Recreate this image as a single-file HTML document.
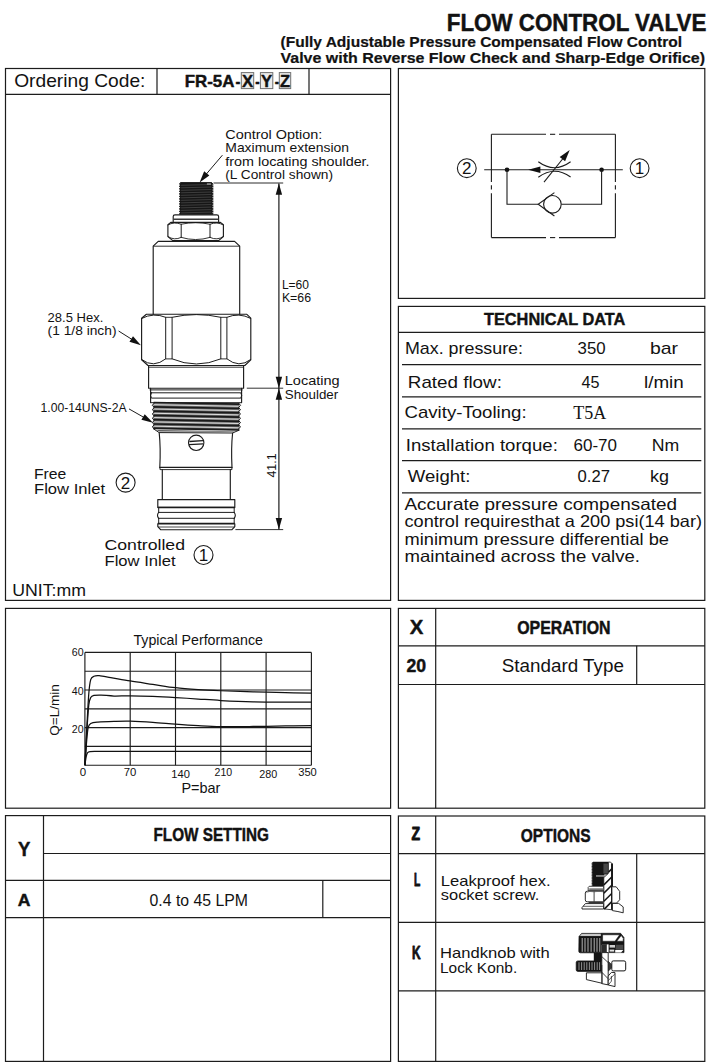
<!DOCTYPE html>
<html><head><meta charset="utf-8"><title>Flow Control Valve FR-5A</title>
<style>
html,body{margin:0;padding:0;background:#fff;}
body{width:711px;height:1063px;overflow:hidden;font-family:"Liberation Sans",sans-serif;}
svg{display:block;}
text{white-space:pre;}
</style></head><body>
<svg width="711" height="1063" viewBox="0 0 711 1063">
<rect x="0" y="0" width="711" height="1063" fill="#ffffff"/>
<rect x="5.5" y="68.5" width="385.1" height="531.9" fill="none" stroke="#1c1c1c" stroke-width="1.2" />
<line x1="5.5" y1="94.4" x2="390.6" y2="94.4" stroke="#1c1c1c" stroke-width="1.2" />
<line x1="157" y1="68.5" x2="157" y2="94.4" stroke="#1c1c1c" stroke-width="1.2" />
<line x1="309" y1="68.5" x2="309" y2="94.4" stroke="#1c1c1c" stroke-width="1.2" />
<rect x="5.5" y="608.4" width="385.1" height="199.8" fill="none" stroke="#1c1c1c" stroke-width="1.2" />
<rect x="5.5" y="815.6" width="385.1" height="245.8" fill="none" stroke="#1c1c1c" stroke-width="1.2" />
<line x1="43.5" y1="815.6" x2="43.5" y2="1061.4" stroke="#1c1c1c" stroke-width="1.2" />
<line x1="43.5" y1="853.5" x2="390.6" y2="853.5" stroke="#1c1c1c" stroke-width="1.2" />
<line x1="5.5" y1="880.4" x2="390.6" y2="880.4" stroke="#1c1c1c" stroke-width="1.2" />
<line x1="5.5" y1="917.7" x2="390.6" y2="917.7" stroke="#1c1c1c" stroke-width="1.2" />
<line x1="322.8" y1="880.4" x2="322.8" y2="917.7" stroke="#1c1c1c" stroke-width="1.2" />
<rect x="398.4" y="68.5" width="306.4" height="229.9" fill="none" stroke="#1c1c1c" stroke-width="1.2" />
<rect x="398.4" y="306.4" width="306.4" height="294.0" fill="none" stroke="#1c1c1c" stroke-width="1.2" />
<line x1="398.4" y1="332.4" x2="704.8" y2="332.4" stroke="#1c1c1c" stroke-width="1.2" />
<line x1="402" y1="364.6" x2="701.3" y2="364.6" stroke="#1c1c1c" stroke-width="1.2" />
<line x1="402" y1="396.8" x2="701.3" y2="396.8" stroke="#1c1c1c" stroke-width="1.2" />
<line x1="402" y1="428.9" x2="701.3" y2="428.9" stroke="#1c1c1c" stroke-width="1.2" />
<line x1="402" y1="460.6" x2="701.3" y2="460.6" stroke="#1c1c1c" stroke-width="1.2" />
<line x1="402" y1="492.8" x2="701.3" y2="492.8" stroke="#1c1c1c" stroke-width="1.2" />
<rect x="398.4" y="608.4" width="306.4" height="199.8" fill="none" stroke="#1c1c1c" stroke-width="1.2" />
<line x1="435.7" y1="608.4" x2="435.7" y2="808.2" stroke="#1c1c1c" stroke-width="1.2" />
<line x1="398.4" y1="645.8" x2="704.8" y2="645.8" stroke="#1c1c1c" stroke-width="1.2" />
<line x1="398.4" y1="684.5" x2="704.8" y2="684.5" stroke="#1c1c1c" stroke-width="1.2" />
<line x1="636.7" y1="645.8" x2="636.7" y2="684.5" stroke="#1c1c1c" stroke-width="1.2" />
<rect x="398.4" y="816.0" width="306.4" height="245.4" fill="none" stroke="#1c1c1c" stroke-width="1.2" />
<line x1="435.7" y1="816.0" x2="435.7" y2="1061.4" stroke="#1c1c1c" stroke-width="1.2" />
<line x1="398.4" y1="853.6" x2="704.8" y2="853.6" stroke="#1c1c1c" stroke-width="1.2" />
<line x1="398.4" y1="922.4" x2="704.8" y2="922.4" stroke="#1c1c1c" stroke-width="1.2" />
<line x1="398.4" y1="990.9" x2="704.8" y2="990.9" stroke="#1c1c1c" stroke-width="1.2" />
<line x1="636.7" y1="853.6" x2="636.7" y2="990.9" stroke="#1c1c1c" stroke-width="1.2" />
<text x="446.8" y="31" font-family='"Liberation Sans", sans-serif' font-size="24" font-weight="bold" text-anchor="start" fill="#121212" textLength="259.5" lengthAdjust="spacingAndGlyphs"  stroke="#121212" stroke-width="0.45" stroke-linejoin="round">FLOW CONTROL VALVE</text>
<text x="280.5" y="47" font-family='"Liberation Sans", sans-serif' font-size="14.4" font-weight="bold" text-anchor="start" fill="#121212" textLength="401.5" lengthAdjust="spacingAndGlyphs"  stroke="#121212" stroke-width="0.2" stroke-linejoin="round">(Fully Adjustable Pressure Compensated Flow Control</text>
<text x="280.5" y="63.3" font-family='"Liberation Sans", sans-serif' font-size="14.4" font-weight="bold" text-anchor="start" fill="#121212" textLength="424.5" lengthAdjust="spacingAndGlyphs"  stroke="#121212" stroke-width="0.2" stroke-linejoin="round">Valve with Reverse Flow Check and Sharp-Edge Orifice)</text>
<text x="14.2" y="87.4" font-family='"Liberation Sans", sans-serif' font-size="18.5" text-anchor="start" fill="#121212" textLength="131.2" lengthAdjust="spacingAndGlyphs" >Ordering Code:</text>
<rect x="241.3" y="72.6" width="12.4" height="16.0" fill="#ececec" stroke="#707070" stroke-width="1" />
<rect x="260.4" y="72.6" width="12.4" height="16.0" fill="#ececec" stroke="#707070" stroke-width="1" />
<rect x="279.3" y="72.6" width="11.4" height="16.0" fill="#ececec" stroke="#707070" stroke-width="1" />
<text x="184.8" y="87.3" font-family='"Liberation Sans", sans-serif' font-size="17" font-weight="bold" text-anchor="start" fill="#121212" textLength="49.6" lengthAdjust="spacingAndGlyphs"  stroke="#121212" stroke-width="0.45" stroke-linejoin="round">FR-5A</text>
<text x="235.6" y="87.3" font-family='"Liberation Sans", sans-serif' font-size="17" font-weight="bold" text-anchor="start" fill="#121212" textLength="4.8" lengthAdjust="spacingAndGlyphs"  stroke="#121212" stroke-width="0.45" stroke-linejoin="round">-</text>
<text x="241.9" y="87.3" font-family='"Liberation Sans", sans-serif' font-size="17" font-weight="bold" text-anchor="start" fill="#121212" textLength="11.2" lengthAdjust="spacingAndGlyphs"  stroke="#121212" stroke-width="0.45" stroke-linejoin="round">X</text>
<text x="255.2" y="87.3" font-family='"Liberation Sans", sans-serif' font-size="17" font-weight="bold" text-anchor="start" fill="#121212" textLength="4.4" lengthAdjust="spacingAndGlyphs"  stroke="#121212" stroke-width="0.45" stroke-linejoin="round">-</text>
<text x="261" y="87.3" font-family='"Liberation Sans", sans-serif' font-size="17" font-weight="bold" text-anchor="start" fill="#121212" textLength="11.2" lengthAdjust="spacingAndGlyphs"  stroke="#121212" stroke-width="0.45" stroke-linejoin="round">Y</text>
<text x="274.8" y="87.3" font-family='"Liberation Sans", sans-serif' font-size="17" font-weight="bold" text-anchor="start" fill="#121212" textLength="4.2" lengthAdjust="spacingAndGlyphs"  stroke="#121212" stroke-width="0.45" stroke-linejoin="round">-</text>
<text x="280.1" y="87.3" font-family='"Liberation Sans", sans-serif' font-size="17" font-weight="bold" text-anchor="start" fill="#121212" textLength="10.1" lengthAdjust="spacingAndGlyphs"  stroke="#121212" stroke-width="0.45" stroke-linejoin="round">Z</text>
<text x="225.3" y="138.7" font-family='"Liberation Sans", sans-serif' font-size="13" text-anchor="start" fill="#121212" textLength="97" lengthAdjust="spacingAndGlyphs" >Control Option:</text>
<text x="225.3" y="152.3" font-family='"Liberation Sans", sans-serif' font-size="13" text-anchor="start" fill="#121212" textLength="123.7" lengthAdjust="spacingAndGlyphs" >Maximum extension</text>
<text x="225.3" y="165.7" font-family='"Liberation Sans", sans-serif' font-size="13" text-anchor="start" fill="#121212" textLength="144.3" lengthAdjust="spacingAndGlyphs" >from locating shoulder.</text>
<text x="225.3" y="178.9" font-family='"Liberation Sans", sans-serif' font-size="13" text-anchor="start" fill="#121212" textLength="107.7" lengthAdjust="spacingAndGlyphs" >(L Control shown)</text>
<text x="281.9" y="288.5" font-family='"Liberation Sans", sans-serif' font-size="12.5" text-anchor="start" fill="#121212" textLength="27.1" lengthAdjust="spacingAndGlyphs" >L=60</text>
<text x="281.9" y="302.3" font-family='"Liberation Sans", sans-serif' font-size="12.5" text-anchor="start" fill="#121212" textLength="29.1" lengthAdjust="spacingAndGlyphs" >K=66</text>
<text x="284.8" y="385.4" font-family='"Liberation Sans", sans-serif' font-size="13" text-anchor="start" fill="#121212" textLength="54.8" lengthAdjust="spacingAndGlyphs" >Locating</text>
<text x="284.8" y="398.8" font-family='"Liberation Sans", sans-serif' font-size="13" text-anchor="start" fill="#121212" textLength="53.4" lengthAdjust="spacingAndGlyphs" >Shoulder</text>
<text x="47.6" y="322" font-family='"Liberation Sans", sans-serif' font-size="13.5" text-anchor="start" fill="#121212" textLength="55.7" lengthAdjust="spacingAndGlyphs" >28.5 Hex.</text>
<text x="47.6" y="335" font-family='"Liberation Sans", sans-serif' font-size="13.5" text-anchor="start" fill="#121212" textLength="68.9" lengthAdjust="spacingAndGlyphs" >(1 1/8 inch)</text>
<text x="40.5" y="412" font-family='"Liberation Sans", sans-serif' font-size="13" text-anchor="start" fill="#121212" textLength="86.1" lengthAdjust="spacingAndGlyphs" >1.00-14UNS-2A</text>
<text x="34" y="478.5" font-family='"Liberation Sans", sans-serif' font-size="15.5" text-anchor="start" fill="#121212" textLength="32.3" lengthAdjust="spacingAndGlyphs" >Free</text>
<text x="34" y="494.3" font-family='"Liberation Sans", sans-serif' font-size="15.5" text-anchor="start" fill="#121212" textLength="71" lengthAdjust="spacingAndGlyphs" >Flow Inlet</text>
<text x="104.5" y="550.4" font-family='"Liberation Sans", sans-serif' font-size="15.5" text-anchor="start" fill="#121212" textLength="80.5" lengthAdjust="spacingAndGlyphs" >Controlled</text>
<text x="104.5" y="566.3" font-family='"Liberation Sans", sans-serif' font-size="15.5" text-anchor="start" fill="#121212" textLength="71" lengthAdjust="spacingAndGlyphs" >Flow Inlet</text>
<text x="12.2" y="596.4" font-family='"Liberation Sans", sans-serif' font-size="16.5" text-anchor="start" fill="#121212" textLength="73.8" lengthAdjust="spacingAndGlyphs" >UNIT:mm</text>
<text transform="translate(275.8,465.5) rotate(-90)" font-family='"Liberation Sans", sans-serif' font-size="13" text-anchor="middle" fill="#121212" textLength="24" lengthAdjust="spacingAndGlyphs">41.1</text>
<text x="484" y="324.8" font-family='"Liberation Sans", sans-serif' font-size="17.3" font-weight="bold" text-anchor="start" fill="#121212" textLength="141.3" lengthAdjust="spacingAndGlyphs"  stroke="#121212" stroke-width="0.45" stroke-linejoin="round">TECHNICAL DATA</text>
<text x="405" y="354" font-family='"Liberation Sans", sans-serif' font-size="17" text-anchor="start" fill="#121212" textLength="118" lengthAdjust="spacingAndGlyphs" >Max. pressure:</text>
<text x="577.6" y="354" font-family='"Liberation Sans", sans-serif' font-size="17" text-anchor="start" fill="#121212" textLength="28.1" lengthAdjust="spacingAndGlyphs" >350</text>
<text x="650" y="354" font-family='"Liberation Sans", sans-serif' font-size="17" text-anchor="start" fill="#121212" textLength="28.1" lengthAdjust="spacingAndGlyphs" >bar</text>
<text x="407.8" y="388.3" font-family='"Liberation Sans", sans-serif' font-size="17" text-anchor="start" fill="#121212" textLength="94.1" lengthAdjust="spacingAndGlyphs" >Rated flow:</text>
<text x="581.4" y="388.3" font-family='"Liberation Sans", sans-serif' font-size="17" text-anchor="start" fill="#121212" textLength="18" lengthAdjust="spacingAndGlyphs" >45</text>
<text x="644" y="388.3" font-family='"Liberation Sans", sans-serif' font-size="17" text-anchor="start" fill="#121212" textLength="39.8" lengthAdjust="spacingAndGlyphs" >l/min</text>
<text x="404.5" y="418.4" font-family='"Liberation Sans", sans-serif' font-size="17" text-anchor="start" fill="#121212" textLength="122.1" lengthAdjust="spacingAndGlyphs" >Cavity-Tooling:</text>
<text x="573.2" y="418.8" font-family='"Liberation Serif", serif' font-size="19" text-anchor="start" fill="#121212" textLength="33" lengthAdjust="spacingAndGlyphs" >T5A</text>
<text x="405.8" y="450.9" font-family='"Liberation Sans", sans-serif' font-size="17" text-anchor="start" fill="#121212" textLength="152" lengthAdjust="spacingAndGlyphs" >Installation torque:</text>
<text x="573.5" y="450.9" font-family='"Liberation Sans", sans-serif' font-size="17" text-anchor="start" fill="#121212" textLength="43.5" lengthAdjust="spacingAndGlyphs" >60-70</text>
<text x="651.8" y="450.9" font-family='"Liberation Sans", sans-serif' font-size="17" text-anchor="start" fill="#121212" textLength="27.5" lengthAdjust="spacingAndGlyphs" >Nm</text>
<text x="407.8" y="482.2" font-family='"Liberation Sans", sans-serif' font-size="17" text-anchor="start" fill="#121212" textLength="62.6" lengthAdjust="spacingAndGlyphs" >Weight:</text>
<text x="577.6" y="482.2" font-family='"Liberation Sans", sans-serif' font-size="17" text-anchor="start" fill="#121212" textLength="32.4" lengthAdjust="spacingAndGlyphs" >0.27</text>
<text x="650" y="482.2" font-family='"Liberation Sans", sans-serif' font-size="17" text-anchor="start" fill="#121212" textLength="19" lengthAdjust="spacingAndGlyphs" >kg</text>
<text x="404.5" y="510" font-family='"Liberation Sans", sans-serif' font-size="16.5" text-anchor="start" fill="#121212" textLength="272.5" lengthAdjust="spacingAndGlyphs" >Accurate pressure compensated</text>
<text x="404.5" y="527.4" font-family='"Liberation Sans", sans-serif' font-size="16.5" text-anchor="start" fill="#121212" textLength="297.5" lengthAdjust="spacingAndGlyphs" >control requiresthat a 200 psi(14 bar)</text>
<text x="404.5" y="544.6" font-family='"Liberation Sans", sans-serif' font-size="16.5" text-anchor="start" fill="#121212" textLength="264.5" lengthAdjust="spacingAndGlyphs" >minimum pressure differential be</text>
<text x="404.5" y="561.8" font-family='"Liberation Sans", sans-serif' font-size="16.5" text-anchor="start" fill="#121212" textLength="235.5" lengthAdjust="spacingAndGlyphs" >maintained across the valve.</text>
<text x="409.8" y="634.2" font-family='"Liberation Sans", sans-serif' font-size="20" font-weight="bold" text-anchor="start" fill="#121212" textLength="13.6" lengthAdjust="spacingAndGlyphs"  stroke="#121212" stroke-width="0.45" stroke-linejoin="round">X</text>
<text x="517.2" y="634.2" font-family='"Liberation Sans", sans-serif' font-size="18" font-weight="bold" text-anchor="start" fill="#121212" textLength="93.4" lengthAdjust="spacingAndGlyphs"  stroke="#121212" stroke-width="0.45" stroke-linejoin="round">OPERATION</text>
<text x="406.4" y="672" font-family='"Liberation Sans", sans-serif' font-size="17.5" font-weight="bold" text-anchor="start" fill="#121212" textLength="19.6" lengthAdjust="spacingAndGlyphs"  stroke="#121212" stroke-width="0.45" stroke-linejoin="round">20</text>
<text x="501.7" y="672" font-family='"Liberation Sans", sans-serif' font-size="17.5" text-anchor="start" fill="#121212" textLength="122.2" lengthAdjust="spacingAndGlyphs" >Standard Type</text>
<text x="17.9" y="855.6" font-family='"Liberation Sans", sans-serif' font-size="19.5" font-weight="bold" text-anchor="start" fill="#121212" textLength="12.4" lengthAdjust="spacingAndGlyphs"  stroke="#121212" stroke-width="0.45" stroke-linejoin="round">Y</text>
<text x="153.5" y="840.9" font-family='"Liberation Sans", sans-serif' font-size="18" font-weight="bold" text-anchor="start" fill="#121212" textLength="115.4" lengthAdjust="spacingAndGlyphs"  stroke="#121212" stroke-width="0.45" stroke-linejoin="round">FLOW SETTING</text>
<text x="17.7" y="905.7" font-family='"Liberation Sans", sans-serif' font-size="16.5" font-weight="bold" text-anchor="start" fill="#121212" textLength="12.7" lengthAdjust="spacingAndGlyphs"  stroke="#121212" stroke-width="0.45" stroke-linejoin="round">A</text>
<text x="149.5" y="905.7" font-family='"Liberation Sans", sans-serif' font-size="16.5" text-anchor="start" fill="#121212" textLength="98.5" lengthAdjust="spacingAndGlyphs" >0.4 to 45 LPM</text>
<text x="411.6" y="840.2" font-family='"Liberation Sans", sans-serif' font-size="19" font-weight="bold" text-anchor="start" fill="#121212" textLength="8.6" lengthAdjust="spacingAndGlyphs" stroke="#121212" stroke-width="0.9" stroke-linejoin="round">Z</text>
<text x="520.8" y="842.4" font-family='"Liberation Sans", sans-serif' font-size="18.5" font-weight="bold" text-anchor="start" fill="#121212" textLength="69.8" lengthAdjust="spacingAndGlyphs"  stroke="#121212" stroke-width="0.45" stroke-linejoin="round">OPTIONS</text>
<text x="414.0" y="885.6" font-family='"Liberation Sans", sans-serif' font-size="17.5" font-weight="bold" text-anchor="start" fill="#121212" textLength="6.3" lengthAdjust="spacingAndGlyphs" stroke="#121212" stroke-width="0.9" stroke-linejoin="round">L</text>
<text x="412.1" y="958.9" font-family='"Liberation Sans", sans-serif' font-size="18" font-weight="bold" text-anchor="start" fill="#121212" textLength="8.6" lengthAdjust="spacingAndGlyphs" stroke="#121212" stroke-width="0.9" stroke-linejoin="round">K</text>
<text x="440.8" y="885.6" font-family='"Liberation Sans", sans-serif' font-size="15" text-anchor="start" fill="#121212" textLength="109.8" lengthAdjust="spacingAndGlyphs" >Leakproof hex.</text>
<text x="440.8" y="900.4" font-family='"Liberation Sans", sans-serif' font-size="15" text-anchor="start" fill="#121212" textLength="98.6" lengthAdjust="spacingAndGlyphs" >socket screw.</text>
<text x="440.0" y="957.6" font-family='"Liberation Sans", sans-serif' font-size="15" text-anchor="start" fill="#121212" textLength="109.7" lengthAdjust="spacingAndGlyphs" >Handknob with</text>
<text x="440.0" y="973.0" font-family='"Liberation Sans", sans-serif' font-size="15" text-anchor="start" fill="#121212" textLength="77.2" lengthAdjust="spacingAndGlyphs" >Lock Konb.</text>
<path d="M180.79999999999998,182.6 L211.70000000000002,182.6 L212.9,184.1 L212.9,214.2 L179.6,214.2 L179.6,184.1 Z" fill="#161616" stroke="#1c1c1c" stroke-width="1" stroke-linejoin="round" stroke-linecap="round" />
<line x1="181.1" y1="185.30" x2="211.4" y2="184.50" stroke="#5d5d5d" stroke-width="0.55"/>
<path d="M179.0,186.00 l1.3,-0.9 l-1.3,-0.9 Z M213.5,186.00 l-1.3,-0.9 l1.3,-0.9 Z" fill="#fff" stroke="none"/>
<line x1="181.1" y1="187.81" x2="211.4" y2="187.01" stroke="#5d5d5d" stroke-width="0.55"/>
<path d="M179.0,188.51 l1.3,-0.9 l-1.3,-0.9 Z M213.5,188.51 l-1.3,-0.9 l1.3,-0.9 Z" fill="#fff" stroke="none"/>
<line x1="181.1" y1="190.32" x2="211.4" y2="189.52" stroke="#5d5d5d" stroke-width="0.55"/>
<path d="M179.0,191.02 l1.3,-0.9 l-1.3,-0.9 Z M213.5,191.02 l-1.3,-0.9 l1.3,-0.9 Z" fill="#fff" stroke="none"/>
<line x1="181.1" y1="192.82" x2="211.4" y2="192.02" stroke="#5d5d5d" stroke-width="0.55"/>
<path d="M179.0,193.52 l1.3,-0.9 l-1.3,-0.9 Z M213.5,193.52 l-1.3,-0.9 l1.3,-0.9 Z" fill="#fff" stroke="none"/>
<line x1="181.1" y1="195.33" x2="211.4" y2="194.53" stroke="#5d5d5d" stroke-width="0.55"/>
<path d="M179.0,196.03 l1.3,-0.9 l-1.3,-0.9 Z M213.5,196.03 l-1.3,-0.9 l1.3,-0.9 Z" fill="#fff" stroke="none"/>
<line x1="181.1" y1="197.84" x2="211.4" y2="197.04" stroke="#5d5d5d" stroke-width="0.55"/>
<path d="M179.0,198.54 l1.3,-0.9 l-1.3,-0.9 Z M213.5,198.54 l-1.3,-0.9 l1.3,-0.9 Z" fill="#fff" stroke="none"/>
<line x1="181.1" y1="200.35" x2="211.4" y2="199.55" stroke="#5d5d5d" stroke-width="0.55"/>
<path d="M179.0,201.05 l1.3,-0.9 l-1.3,-0.9 Z M213.5,201.05 l-1.3,-0.9 l1.3,-0.9 Z" fill="#fff" stroke="none"/>
<line x1="181.1" y1="202.86" x2="211.4" y2="202.06" stroke="#5d5d5d" stroke-width="0.55"/>
<path d="M179.0,203.56 l1.3,-0.9 l-1.3,-0.9 Z M213.5,203.56 l-1.3,-0.9 l1.3,-0.9 Z" fill="#fff" stroke="none"/>
<line x1="181.1" y1="205.37" x2="211.4" y2="204.57" stroke="#5d5d5d" stroke-width="0.55"/>
<path d="M179.0,206.07 l1.3,-0.9 l-1.3,-0.9 Z M213.5,206.07 l-1.3,-0.9 l1.3,-0.9 Z" fill="#fff" stroke="none"/>
<line x1="181.1" y1="207.87" x2="211.4" y2="207.07" stroke="#5d5d5d" stroke-width="0.55"/>
<path d="M179.0,208.57 l1.3,-0.9 l-1.3,-0.9 Z M213.5,208.57 l-1.3,-0.9 l1.3,-0.9 Z" fill="#fff" stroke="none"/>
<line x1="181.1" y1="210.38" x2="211.4" y2="209.58" stroke="#5d5d5d" stroke-width="0.55"/>
<path d="M179.0,211.08 l1.3,-0.9 l-1.3,-0.9 Z M213.5,211.08 l-1.3,-0.9 l1.3,-0.9 Z" fill="#fff" stroke="none"/>
<line x1="181.1" y1="212.89" x2="211.4" y2="212.09" stroke="#5d5d5d" stroke-width="0.55"/>
<path d="M179.0,213.59 l1.3,-0.9 l-1.3,-0.9 Z M213.5,213.59 l-1.3,-0.9 l1.3,-0.9 Z" fill="#fff" stroke="none"/>
<line x1="206.9" y1="184.0" x2="210.9" y2="184.0" stroke="#ddd" stroke-width="0.9"/>
<path d="M173.2,221.6 L173.2,216.4 Q173.2,214.8 175.0,214.8 L216.8,214.8 Q218.6,214.8 218.6,216.4 L218.6,221.6" fill="none" stroke="#1c1c1c" stroke-width="1.15" stroke-linejoin="round" stroke-linecap="round" />
<line x1="173.2" y1="219.2" x2="218.6" y2="219.2" stroke="#3a3a3a" stroke-width="1.6" />
<path d="M170.8,222.4 L220.4,222.4 L223.4,224.8 L223.4,236.6 L218.6,240.6 L172.8,240.6 L167.9,236.6 L167.9,224.8 Z" fill="#fff" stroke="#1c1c1c" stroke-width="1.15" stroke-linejoin="round" stroke-linecap="round" />
<line x1="181.2" y1="224.2" x2="181.2" y2="237.4" stroke="#1c1c1c" stroke-width="1.0" />
<line x1="210.0" y1="224.2" x2="210.0" y2="237.4" stroke="#1c1c1c" stroke-width="1.0" />
<path d="M181.2,224.2 Q195.6,221.2 210.0,224.2" fill="none" stroke="#1c1c1c" stroke-width="0.9" stroke-linejoin="round" stroke-linecap="round" />
<path d="M181.2,237.4 Q195.6,241.8 210.0,237.4" fill="none" stroke="#1c1c1c" stroke-width="0.9" stroke-linejoin="round" stroke-linecap="round" />
<path d="M168.1,224.9 Q174.0,221.4 181.2,224.2" fill="none" stroke="#1c1c1c" stroke-width="0.9" stroke-linejoin="round" stroke-linecap="round" />
<path d="M210.0,224.2 Q217.2,221.4 223.2,224.9" fill="none" stroke="#1c1c1c" stroke-width="0.9" stroke-linejoin="round" stroke-linecap="round" />
<path d="M168.1,236.6 Q174.0,240.8 181.2,237.4" fill="none" stroke="#1c1c1c" stroke-width="0.9" stroke-linejoin="round" stroke-linecap="round" />
<path d="M210.0,237.4 Q217.2,240.8 223.2,236.6" fill="none" stroke="#1c1c1c" stroke-width="0.9" stroke-linejoin="round" stroke-linecap="round" />
<path d="M153.2,314.2 L153.2,246.2 L158.2,241.4 L234.6,241.4 L239.7,246.2 L239.7,314.2" fill="none" stroke="#1c1c1c" stroke-width="1.15" stroke-linejoin="round" stroke-linecap="round" />
<line x1="153.2" y1="246.2" x2="239.7" y2="246.2" stroke="#1c1c1c" stroke-width="0.9" />
<path d="M146.4,314.2 L246.6,314.2 L250.8,318.2 L250.8,359.8 L244.8,365.5 L148.0,365.5 L141.6,359.8 L141.6,318.2 Z" fill="none" stroke="#1c1c1c" stroke-width="1.15" stroke-linejoin="round" stroke-linecap="round" />
<line x1="165.7" y1="317.3" x2="165.7" y2="358.9" stroke="#1c1c1c" stroke-width="1.0" />
<line x1="172.1" y1="317.3" x2="172.1" y2="358.9" stroke="#1c1c1c" stroke-width="1.0" />
<line x1="220.8" y1="317.3" x2="220.8" y2="358.9" stroke="#1c1c1c" stroke-width="1.0" />
<line x1="226.9" y1="317.3" x2="226.9" y2="358.9" stroke="#1c1c1c" stroke-width="1.0" />
<line x1="165.7" y1="317.3" x2="172.1" y2="317.3" stroke="#1c1c1c" stroke-width="0.9" />
<line x1="220.8" y1="317.3" x2="226.9" y2="317.3" stroke="#1c1c1c" stroke-width="0.9" />
<line x1="165.7" y1="358.9" x2="172.1" y2="358.9" stroke="#1c1c1c" stroke-width="0.9" />
<line x1="220.8" y1="358.9" x2="226.9" y2="358.9" stroke="#1c1c1c" stroke-width="0.9" />
<path d="M141.8,318.4 Q153.5,312.2 165.7,317.3" fill="none" stroke="#1c1c1c" stroke-width="1.0" stroke-linejoin="round" stroke-linecap="round" />
<path d="M226.9,317.3 Q239,312.2 250.6,318.4" fill="none" stroke="#1c1c1c" stroke-width="1.0" stroke-linejoin="round" stroke-linecap="round" />
<path d="M172.1,317.3 Q196.4,311.8 220.8,317.3" fill="none" stroke="#1c1c1c" stroke-width="1.0" stroke-linejoin="round" stroke-linecap="round" />
<path d="M141.8,359.6 Q153.5,368.6 165.7,358.9" fill="none" stroke="#1c1c1c" stroke-width="1.0" stroke-linejoin="round" stroke-linecap="round" />
<path d="M226.9,358.9 Q239,368.6 250.6,359.6" fill="none" stroke="#1c1c1c" stroke-width="1.0" stroke-linejoin="round" stroke-linecap="round" />
<path d="M172.1,358.9 Q196.4,369.2 220.8,358.9" fill="none" stroke="#1c1c1c" stroke-width="1.0" stroke-linejoin="round" stroke-linecap="round" />
<path d="M148.6,366.0 L148.6,388.2 L243.6,388.2 L243.6,366.0" fill="none" stroke="#1c1c1c" stroke-width="1.15" stroke-linejoin="round" stroke-linecap="round" />
<line x1="148.6" y1="367.2" x2="243.6" y2="367.2" stroke="#1c1c1c" stroke-width="0.9" />
<path d="M150.6,388.4 L150.6,402.6 M241.6,388.4 L241.6,402.6" fill="none" stroke="#1c1c1c" stroke-width="1.15" stroke-linejoin="round" stroke-linecap="round" />
<line x1="149.6" y1="389.9" x2="242.6" y2="389.9" stroke="#1c1c1c" stroke-width="1.0" />
<path d="M151.4,392.8 L240.8,392.8 Q242.6,395.4 240.8,398.1 L151.4,398.1 Q149.6,395.4 151.4,392.8 Z" fill="none" stroke="#1c1c1c" stroke-width="1.0" stroke-linejoin="round" stroke-linecap="round" />
<line x1="150.6" y1="402.7" x2="241.6" y2="402.7" stroke="#1c1c1c" stroke-width="1.0" />
<rect x="153.4" y="403.2" width="86.0" height="25.80000000000001" fill="#6e6e6e"/>
<line x1="153.6" y1="402.50" x2="239.2" y2="404.20" stroke="#1a1a1a" stroke-width="1.7"/>
<line x1="154.1" y1="404.70" x2="238.7" y2="406.30" stroke="#dedede" stroke-width="1.0"/>
<line x1="153.6" y1="406.80" x2="239.2" y2="408.50" stroke="#1a1a1a" stroke-width="1.7"/>
<line x1="154.1" y1="409.00" x2="238.7" y2="410.60" stroke="#dedede" stroke-width="1.0"/>
<line x1="153.6" y1="411.10" x2="239.2" y2="412.80" stroke="#1a1a1a" stroke-width="1.7"/>
<line x1="154.1" y1="413.30" x2="238.7" y2="414.90" stroke="#dedede" stroke-width="1.0"/>
<line x1="153.6" y1="415.40" x2="239.2" y2="417.10" stroke="#1a1a1a" stroke-width="1.7"/>
<line x1="154.1" y1="417.60" x2="238.7" y2="419.20" stroke="#dedede" stroke-width="1.0"/>
<line x1="153.6" y1="419.70" x2="239.2" y2="421.40" stroke="#1a1a1a" stroke-width="1.7"/>
<line x1="154.1" y1="421.90" x2="238.7" y2="423.50" stroke="#dedede" stroke-width="1.0"/>
<line x1="153.6" y1="424.00" x2="239.2" y2="425.70" stroke="#1a1a1a" stroke-width="1.7"/>
<line x1="154.1" y1="426.20" x2="238.7" y2="427.80" stroke="#dedede" stroke-width="1.0"/>
<line x1="153.6" y1="428.30" x2="239.2" y2="430.00" stroke="#1a1a1a" stroke-width="1.7"/>
<path d="M154.2,403.2 L152.2,405.35 L154.4,407.50 L152.2,409.65 L154.4,411.80 L152.2,413.95 L154.4,416.10 L152.2,418.25 L154.4,420.40 L152.2,422.55 L154.4,424.70 L152.2,426.85 L154.4,429.00" fill="none" stroke="#1c1c1c" stroke-width="1.0" stroke-linejoin="round" stroke-linecap="round" />
<path d="M238.6,403.2 L240.6,405.35 L238.39999999999998,407.50 L240.6,409.65 L238.39999999999998,411.80 L240.6,413.95 L238.39999999999998,416.10 L240.6,418.25 L238.39999999999998,420.40 L240.6,422.55 L238.39999999999998,424.70 L240.6,426.85 L238.39999999999998,429.00" fill="none" stroke="#1c1c1c" stroke-width="1.0" stroke-linejoin="round" stroke-linecap="round" />
<path d="M153.79999999999998,428.8 L239.0,430.2 L232.6,433.0 L159.2,432.6 Z" fill="#fff" stroke="none"/>
<line x1="153.6" y1="428.6" x2="239.2" y2="430.0" stroke="#1c1c1c" stroke-width="1.5" />
<path d="M153.79999999999998,429.0 L159.2,432.6 L232.6,433.0 L239.0,430.2" fill="none" stroke="#1c1c1c" stroke-width="1.0" stroke-linejoin="round" stroke-linecap="round" />
<path d="M156.0,430.0 L236.79999999999998,431.2 L233.0,431.8 L159.6,431.4 Z" fill="#555" stroke="none"/>
<path d="M159.2,432.6 Q160.8,448 159.8,467.6 M232.6,433.0 Q231.0,448 232.0,467.6" fill="none" stroke="#1c1c1c" stroke-width="1.15" stroke-linejoin="round" stroke-linecap="round" />
<line x1="159.8" y1="467.4" x2="232.0" y2="467.4" stroke="#1c1c1c" stroke-width="1.2" />
<line x1="160.2" y1="469.6" x2="231.8" y2="469.6" stroke="#1c1c1c" stroke-width="0.9" />
<path d="M159.8,467.4 L160.2,469.6 M232.0,467.4 L231.8,469.6" fill="none" stroke="#1c1c1c" stroke-width="0.9" stroke-linejoin="round" stroke-linecap="round" />
<path d="M162.3,469.6 L162.3,499.4 M230.3,469.6 L230.3,499.4" fill="none" stroke="#1c1c1c" stroke-width="1.15" stroke-linejoin="round" stroke-linecap="round" />
<circle cx="196.2" cy="442.8" r="7.7" fill="#fff" stroke="#1c1c1c" stroke-width="1.1"/>
<line x1="189.4" y1="441.5" x2="203.0" y2="440.7" stroke="#1c1c1c" stroke-width="1.3" />
<line x1="189.0" y1="444.7" x2="203.2" y2="443.9" stroke="#1c1c1c" stroke-width="1.3" />
<path d="M157.8,499.6 L234.8,499.6 L234.8,507.4 L157.8,507.4 Z" fill="none" stroke="#1c1c1c" stroke-width="1.15" stroke-linejoin="round" stroke-linecap="round" />
<line x1="157.8" y1="507.5" x2="234.8" y2="507.5" stroke="#1c1c1c" stroke-width="1.7" />
<path d="M158.7,507.6 L158.7,512.4 M234.2,507.6 L234.2,512.4" fill="none" stroke="#1c1c1c" stroke-width="1.0" stroke-linejoin="round" stroke-linecap="round" />
<line x1="158.2" y1="512.4" x2="234.6" y2="512.4" stroke="#1c1c1c" stroke-width="1.0" />
<path d="M158.6,512.5 Q156.4,515.4 158.6,518.3 M234.2,512.5 Q236.4,515.4 234.2,518.3" fill="none" stroke="#1c1c1c" stroke-width="1.1" stroke-linejoin="round" stroke-linecap="round" />
<line x1="158.2" y1="518.3" x2="234.6" y2="518.3" stroke="#1c1c1c" stroke-width="1.0" />
<path d="M158.7,518.4 L158.7,523.6 M234.2,518.4 L234.2,523.6" fill="none" stroke="#1c1c1c" stroke-width="1.0" stroke-linejoin="round" stroke-linecap="round" />
<line x1="157.8" y1="523.7" x2="234.8" y2="523.7" stroke="#1c1c1c" stroke-width="1.7" />
<path d="M157.8,523.8 L157.8,526.6 L160.6,529.7 L232.0,529.7 L234.8,526.6 L234.8,523.8" fill="none" stroke="#1c1c1c" stroke-width="1.15" stroke-linejoin="round" stroke-linecap="round" />
<line x1="158.0" y1="527.0" x2="234.6" y2="527.0" stroke="#1c1c1c" stroke-width="0.8" />
<line x1="213.5" y1="183.0" x2="283.2" y2="183.0" stroke="#2c2c2c" stroke-width="1.0" />
<line x1="278.9" y1="183.5" x2="278.9" y2="529.4" stroke="#1c1c1c" stroke-width="1.2" />
<line x1="246.8" y1="388.2" x2="283.2" y2="388.2" stroke="#1c1c1c" stroke-width="0.9" />
<line x1="235.4" y1="529.6" x2="283.2" y2="529.6" stroke="#1c1c1c" stroke-width="0.9" />
<polygon points="278.90,183.20 282.10,194.70 275.70,194.70" fill="#111"/>
<polygon points="278.90,388.20 275.70,376.70 282.10,376.70" fill="#111"/>
<polygon points="278.90,388.20 282.10,399.70 275.70,399.70" fill="#111"/>
<polygon points="278.90,529.40 275.70,517.90 282.10,517.90" fill="#111"/>
<line x1="222.4" y1="155.2" x2="204.5" y2="176.2" stroke="#1c1c1c" stroke-width="1.0" />
<polygon points="199.60,182.40 204.17,171.34 209.34,175.45" fill="#111"/>
<line x1="118.6" y1="331.0" x2="133.5" y2="340.4" stroke="#1c1c1c" stroke-width="1.0" />
<polygon points="140.90,345.20 129.44,341.76 133.01,336.21" fill="#111"/>
<line x1="129.0" y1="408.9" x2="146.0" y2="418.6" stroke="#1c1c1c" stroke-width="1.0" />
<polygon points="153.00,422.80 141.40,419.87 144.72,414.17" fill="#111"/>
<circle cx="125.6" cy="482.6" r="9.5" fill="#fff" stroke="#1c1c1c" stroke-width="1.1"/>
<text x="125.6" y="488.6" font-family='"Liberation Sans", sans-serif' font-size="17" text-anchor="middle" fill="#121212" >2</text>
<circle cx="203.5" cy="555.0" r="9.5" fill="#fff" stroke="#1c1c1c" stroke-width="1.1"/>
<text x="203.5" y="561.0" font-family='"Liberation Sans", sans-serif' font-size="17" text-anchor="middle" fill="#121212" >1</text>
<line x1="491.4" y1="134.3" x2="546.0" y2="134.3" stroke="#1c1c1c" stroke-width="1.1" />
<line x1="550.0" y1="134.3" x2="555.1999999999999" y2="134.3" stroke="#1c1c1c" stroke-width="1.1" />
<line x1="559.0" y1="134.3" x2="615.4" y2="134.3" stroke="#1c1c1c" stroke-width="1.1" />
<line x1="491.4" y1="237.6" x2="546.0" y2="237.6" stroke="#1c1c1c" stroke-width="1.1" />
<line x1="550.0" y1="237.6" x2="555.1999999999999" y2="237.6" stroke="#1c1c1c" stroke-width="1.1" />
<line x1="559.0" y1="237.6" x2="615.4" y2="237.6" stroke="#1c1c1c" stroke-width="1.1" />
<line x1="491.4" y1="134.3" x2="491.4" y2="181.95" stroke="#1c1c1c" stroke-width="1.1" />
<line x1="491.4" y1="185.35" x2="491.4" y2="189.54999999999998" stroke="#1c1c1c" stroke-width="1.1" />
<line x1="491.4" y1="193.14999999999998" x2="491.4" y2="237.6" stroke="#1c1c1c" stroke-width="1.1" />
<line x1="615.4" y1="134.3" x2="615.4" y2="181.95" stroke="#1c1c1c" stroke-width="1.1" />
<line x1="615.4" y1="185.35" x2="615.4" y2="189.54999999999998" stroke="#1c1c1c" stroke-width="1.1" />
<line x1="615.4" y1="193.14999999999998" x2="615.4" y2="237.6" stroke="#1c1c1c" stroke-width="1.1" />
<line x1="484.2" y1="169.7" x2="622.8" y2="169.7" stroke="#1c1c1c" stroke-width="1.1" />
<circle cx="507.0" cy="169.7" r="2.3" fill="#111"/>
<circle cx="601.6" cy="169.7" r="2.3" fill="#111"/>
<path d="M507.0,169.7 L507.0,204.3 L538.2,204.3" fill="none" stroke="#1c1c1c" stroke-width="1.1" stroke-linejoin="miter" />
<path d="M601.6,169.7 L601.6,204.3 L561.2,204.3" fill="none" stroke="#1c1c1c" stroke-width="1.1" stroke-linejoin="miter" />
<circle cx="552.4" cy="204.3" r="8.8" fill="#fff" stroke="#1c1c1c" stroke-width="1.1"/>
<path d="M554.4,192.6 L538.2,204.3 L554.4,216.0" fill="none" stroke="#1c1c1c" stroke-width="1.1" stroke-linejoin="miter" />
<path d="M538.3,161.8 Q554.4,173.6 570.6,161.8" fill="none" stroke="#1c1c1c" stroke-width="1.1" stroke-linejoin="miter" />
<path d="M538.3,177.3 Q554.4,165.3 570.6,177.0" fill="none" stroke="#1c1c1c" stroke-width="1.1" stroke-linejoin="miter" />
<line x1="544.0" y1="182.2" x2="563.4" y2="158.0" stroke="#1c1c1c" stroke-width="1.1" />
<polygon points="569.7,150.1 565.1,161.2 559.7,156.9" fill="#111"/>
<polygon points="528.2,169.7 540.4,166.39999999999998 540.4,173.0" fill="#111"/>
<circle cx="466.8" cy="168.2" r="9.4" fill="#fff" stroke="#1c1c1c" stroke-width="1.1"/>
<text x="466.8" y="174.3" font-family='"Liberation Sans", sans-serif' font-size="17" text-anchor="middle" fill="#121212" >2</text>
<circle cx="639.6" cy="168.2" r="9.4" fill="#fff" stroke="#1c1c1c" stroke-width="1.1"/>
<text x="639.6" y="174.3" font-family='"Liberation Sans", sans-serif' font-size="17" text-anchor="middle" fill="#121212" >1</text>
<line x1="84.9" y1="652.4" x2="84.9" y2="765.2" stroke="#1c1c1c" stroke-width="1.15" />
<line x1="130.2" y1="652.4" x2="130.2" y2="765.2" stroke="#1c1c1c" stroke-width="1.15" />
<line x1="175.5" y1="652.4" x2="175.5" y2="765.2" stroke="#1c1c1c" stroke-width="1.15" />
<line x1="220.8" y1="652.4" x2="220.8" y2="765.2" stroke="#1c1c1c" stroke-width="1.15" />
<line x1="266.1" y1="652.4" x2="266.1" y2="765.2" stroke="#1c1c1c" stroke-width="1.15" />
<line x1="311.4" y1="652.4" x2="311.4" y2="765.2" stroke="#1c1c1c" stroke-width="1.15" />
<line x1="84.9" y1="652.4" x2="311.4" y2="652.4" stroke="#1c1c1c" stroke-width="1.15" />
<line x1="84.9" y1="671.2" x2="311.4" y2="671.2" stroke="#1c1c1c" stroke-width="1.15" />
<line x1="84.9" y1="690.0" x2="311.4" y2="690.0" stroke="#1c1c1c" stroke-width="1.15" />
<line x1="84.9" y1="708.8" x2="311.4" y2="708.8" stroke="#1c1c1c" stroke-width="1.15" />
<line x1="84.9" y1="727.6" x2="311.4" y2="727.6" stroke="#1c1c1c" stroke-width="1.15" />
<line x1="84.9" y1="746.4" x2="311.4" y2="746.4" stroke="#1c1c1c" stroke-width="1.15" />
<line x1="84.9" y1="765.2" x2="311.4" y2="765.2" stroke="#1c1c1c" stroke-width="1.15" />
<path d="M84.90,765.20 C85.21,759.18 86.22,739.03 86.84,727.60 C87.46,716.17 88.16,701.43 88.78,693.76 C89.40,686.09 89.90,682.46 90.72,679.66 C91.55,676.86 92.61,676.91 93.96,676.28 C95.31,675.64 96.45,675.50 99.14,675.71 C101.83,675.92 105.82,676.75 110.79,677.59 C115.76,678.43 123.47,679.89 130.20,680.98 C136.93,682.06 145.60,683.28 152.85,684.36 C160.10,685.44 168.25,686.90 175.50,687.74 C182.75,688.59 190.90,689.14 198.15,689.62 C205.40,690.11 212.00,690.39 220.80,690.75 C229.60,691.11 242.80,691.58 253.16,691.88 C263.51,692.18 276.20,692.45 285.51,692.63 C294.83,692.81 307.26,692.95 311.40,693.01" fill="none" stroke="#111" stroke-width="1.25" stroke-linejoin="round"/>
<path d="M84.90,765.20 C85.21,759.79 86.22,740.99 86.84,731.36 C87.46,721.73 88.16,710.45 88.78,705.04 C89.40,699.63 89.90,699.05 90.72,697.52 C91.55,695.99 92.30,695.84 93.96,695.45 C95.62,695.06 97.87,694.99 101.08,695.08 C104.29,695.17 109.36,695.90 114.02,696.02 C118.68,696.14 123.99,695.77 130.20,695.83 C136.41,695.89 145.60,696.12 152.85,696.39 C160.10,696.66 168.25,697.10 175.50,697.52 C182.75,697.94 190.90,698.54 198.15,699.02 C205.40,699.51 212.00,700.08 220.80,700.53 C229.60,700.98 242.80,701.57 253.16,701.84 C263.51,702.11 276.20,702.16 285.51,702.22 C294.83,702.28 307.26,702.22 311.40,702.22" fill="none" stroke="#111" stroke-width="1.25" stroke-linejoin="round"/>
<path d="M84.90,765.20 C85.16,761.59 86.00,748.66 86.52,742.64 C87.04,736.62 87.46,730.67 88.14,727.60 C88.81,724.53 89.17,724.34 90.72,723.46 C92.28,722.59 94.12,722.48 97.84,722.15 C101.57,721.82 108.84,721.55 114.02,721.40 C119.20,721.25 123.99,721.06 130.20,721.21 C136.41,721.36 145.60,721.85 152.85,722.34 C160.10,722.82 168.25,723.67 175.50,724.22 C182.75,724.76 190.90,725.33 198.15,725.72 C205.40,726.11 212.00,726.54 220.80,726.66 C229.60,726.78 242.80,726.59 253.16,726.47 C263.51,726.35 276.20,726.06 285.51,725.91 C294.83,725.76 307.26,725.59 311.40,725.53" fill="none" stroke="#111" stroke-width="1.25" stroke-linejoin="round"/>
<path d="M84.90,765.20 C85.11,763.85 85.78,758.73 86.19,756.74 C86.61,754.75 86.87,753.60 87.49,752.79 C88.11,751.98 88.42,751.87 90.08,751.66 C91.73,751.45 91.42,751.51 97.84,751.48 C104.26,751.45 96.03,751.48 130.20,751.48 C164.37,751.48 282.41,751.48 311.40,751.48" fill="none" stroke="#111" stroke-width="1.25" stroke-linejoin="round"/>
<text x="133.4" y="644.8" font-family='"Liberation Sans", sans-serif' font-size="14" text-anchor="start" fill="#121212" textLength="129.5" lengthAdjust="spacingAndGlyphs" >Typical Performance</text>
<text x="200.9" y="793.0" font-family='"Liberation Sans", sans-serif' font-size="14.5" text-anchor="middle" fill="#121212" textLength="39" lengthAdjust="spacingAndGlyphs" >P=bar</text>
<text transform="translate(58.6,710) rotate(-90)" font-family='"Liberation Sans", sans-serif' font-size="13.5" text-anchor="middle" fill="#121212" textLength="51.5" lengthAdjust="spacingAndGlyphs">Q=L/min</text>
<text x="83.6" y="655.8" font-family='"Liberation Sans", sans-serif' font-size="11.5" text-anchor="end" fill="#121212" textLength="11.8" lengthAdjust="spacingAndGlyphs" >60</text>
<text x="83.6" y="695.0" font-family='"Liberation Sans", sans-serif' font-size="11.5" text-anchor="end" fill="#121212" textLength="11.8" lengthAdjust="spacingAndGlyphs" >40</text>
<text x="83.6" y="732.8" font-family='"Liberation Sans", sans-serif' font-size="11.5" text-anchor="end" fill="#121212" textLength="11.8" lengthAdjust="spacingAndGlyphs" >20</text>
<text x="83.0" y="775.6" font-family='"Liberation Sans", sans-serif' font-size="11.5" text-anchor="middle" fill="#121212" textLength="6.4" lengthAdjust="spacingAndGlyphs" >0</text>
<text x="130" y="775.6" font-family='"Liberation Sans", sans-serif' font-size="11.5" text-anchor="middle" fill="#121212" textLength="12.6" lengthAdjust="spacingAndGlyphs" >70</text>
<text x="180.6" y="778.4" font-family='"Liberation Sans", sans-serif' font-size="11.5" text-anchor="middle" fill="#121212" textLength="18.6" lengthAdjust="spacingAndGlyphs" >140</text>
<text x="223.4" y="776.2" font-family='"Liberation Sans", sans-serif' font-size="11.5" text-anchor="middle" fill="#121212" textLength="17.6" lengthAdjust="spacingAndGlyphs" >210</text>
<text x="268.2" y="778.4" font-family='"Liberation Sans", sans-serif' font-size="11.5" text-anchor="middle" fill="#121212" textLength="18.0" lengthAdjust="spacingAndGlyphs" >280</text>
<text x="307.5" y="776.2" font-family='"Liberation Sans", sans-serif' font-size="11.5" text-anchor="middle" fill="#121212" textLength="18.6" lengthAdjust="spacingAndGlyphs" >350</text>
<g>
<path d="M608.4,862.1 L593.2,862.1 L591.7,863.3 L592.9,864.1 L591.7,864.9 L592.9,865.6 L591.7,866.4 L592.9,867.2 L591.7,867.9 L592.9,868.7 L591.7,869.5 L592.9,870.3 L591.7,871.0 L592.9,871.8 L591.7,872.6 L592.9,873.4 L591.7,874.1 L592.9,874.9 L591.7,875.7 L592.9,876.5 L591.7,877.2 L592.9,878.0 L591.7,878.8 L592.9,879.6 L591.7,880.3 L592.9,881.1 L591.7,881.9 L592.9,882.7 L591.7,883.4 L592.9,884.2 L591.7,885.0 L592.9,885.8 L592.9,886.0 L604.0,886.0 L604.0,874.2 L608.4,874.2 Z" fill="#141414" stroke="#151515" stroke-width="0.6" stroke-linejoin="round" />
<rect x="603.4" y="863.6" width="4.8" height="10.0" fill="#474747"/>
<rect x="596.0" y="875.2" width="9.6" height="1.5" fill="#9a9a9a"/>
<path d="M608.4,862.1 L610.6,862.1 L612.3,864.0 L612.3,909.8 L603.8,908.9 L603.8,877.6 L608.4,873.4 Z" fill="#fff" stroke="#151515" stroke-width="0.8" stroke-linejoin="round" />
<line x1="612.0" y1="868.6" x2="608.5" y2="872.1" stroke="#151515" stroke-width="1.5"/>
<line x1="612.0" y1="876.8" x2="603.9" y2="884.9" stroke="#151515" stroke-width="1.5"/>
<line x1="612.0" y1="885.0" x2="603.9" y2="893.1" stroke="#151515" stroke-width="1.5"/>
<line x1="612.0" y1="893.2" x2="603.9" y2="901.3" stroke="#151515" stroke-width="1.5"/>
<line x1="612.0" y1="901.4" x2="604.3" y2="909.1" stroke="#151515" stroke-width="1.5"/>
<line x1="612.0" y1="863.5" x2="612.0" y2="909.8" stroke="#151515" stroke-width="1.9"/>
<path d="M589.2,886.3 L603.6,886.3 L603.6,890.6 L588.2,890.6 L588.2,887.3 Z" fill="#fff" stroke="#151515" stroke-width="0.8" stroke-linejoin="round" />
<rect x="589.2" y="888.3" width="14.2" height="1.9" fill="#777"/>
<path d="M587.2,891.2 L603.6,891.2 L603.6,901.8 L587.2,901.8 Q585.3,901.8 585.3,899.9 L585.3,893.1 Q585.3,891.2 587.2,891.2 Z" fill="#fff" stroke="#151515" stroke-width="0.9" stroke-linejoin="round" />
<path d="M594.1,891.4 L594.1,901.6" fill="none" stroke="#151515" stroke-width="0.8" stroke-linejoin="round" />
<path d="M585.6,893.0 Q589.8,890.4 594.1,892.0 Q598.8,890.4 603.4,892.0" fill="none" stroke="#666" stroke-width="0.5" stroke-linejoin="round" />
<rect x="588.6" y="901.9" width="15" height="1.6" fill="#333"/>
<path d="M585.4,903.6 L603.6,903.6 L603.6,909.0 L582.0,909.0 L582.0,907.6 Z" fill="#fff" stroke="#151515" stroke-width="0.9" stroke-linejoin="round" />
<path d="M583.2,906.3 L603.6,906.3" fill="none" stroke="#151515" stroke-width="0.7" stroke-linejoin="round" />
<path d="M612.4,886.8 L616.2,886.8 L619.7,891.4 L619.7,899.8 L616.4,903.2 L612.4,903.2" fill="#fff" stroke="#151515" stroke-width="0.9" stroke-linejoin="round" />
<path d="M612.4,903.4 L618.6,903.4 L623.2,906.9 L623.2,912.8 Q618,911.4 612.4,910.6 Z" fill="#fff" stroke="#151515" stroke-width="0.9" stroke-linejoin="round" />
</g>
<g>
<path d="M581.6,933.4 L601.4,933.4 L601.4,936.6 L579.0,936.6 Z" fill="#c8c8c8" stroke="#151515" stroke-width="0.8" stroke-linejoin="round" />
<path d="M579.0,936.6 L601.4,936.6 L601.4,952.8 L580.4,952.8 Q578.8,952.8 578.8,951.2 Z" fill="#141414" stroke="#151515" stroke-width="0.7" stroke-linejoin="round" />
<line x1="582.2" y1="938.0" x2="582.2" y2="951.8" stroke="#c4c4c4" stroke-width="0.9"/>
<line x1="585.0" y1="938.0" x2="585.0" y2="951.8" stroke="#c4c4c4" stroke-width="0.9"/>
<line x1="588.0" y1="938.0" x2="588.0" y2="951.8" stroke="#c4c4c4" stroke-width="0.9"/>
<line x1="591.1" y1="938.0" x2="591.1" y2="951.8" stroke="#c4c4c4" stroke-width="0.9"/>
<line x1="594.2" y1="938.0" x2="594.2" y2="951.8" stroke="#c4c4c4" stroke-width="0.9"/>
<line x1="597.0" y1="938.0" x2="597.0" y2="951.8" stroke="#c4c4c4" stroke-width="0.9"/>
<line x1="599.8" y1="938.0" x2="599.8" y2="951.8" stroke="#c4c4c4" stroke-width="0.9"/>
<path d="M601.4,933.3 L620.6,933.3 L624.0,937.6 L624.0,952.6 L606.4,952.6 L606.4,944.6 L601.4,944.6 Z" fill="#141414" stroke="#151515" stroke-width="0.7" stroke-linejoin="round" />
<path d="M602.6,934.8 L619.6,934.8 L615.0,941.2 L602.6,941.2 Z" fill="#fff" stroke="#151515" stroke-width="0.5" stroke-linejoin="round" />
<path d="M621.2,935.6 L623.2,938.2 L623.2,941.2 L616.8,941.2 Z" fill="#fff" stroke="#151515" stroke-width="0.5" stroke-linejoin="round" />
<rect x="606.8" y="944.4" width="1.8" height="8.0" fill="#fff"/>
<rect x="609.6" y="945.0" width="5.4" height="2.6" fill="#cfcfcf"/>
<rect x="609.6" y="949.6" width="4.6" height="2.0" fill="#e4e4e4"/>
<rect x="615.6" y="944.8" width="7.6" height="5.0" fill="#4a4a4a"/>
<path d="M615.2,950.0 L623.4,950.0 L621.0,952.6 L615.2,952.6 Z" fill="#fff"/>
<rect x="593.8" y="952.6" width="8.2" height="8.6" fill="#141414"/>
<path d="M577.8,960.9 L601.4,960.9 L601.4,971.4 L577.8,971.4 Q576.2,971.4 576.2,969.8 L576.2,962.5 Q576.2,960.9 577.8,960.9 Z" fill="#141414" stroke="#151515" stroke-width="0.7" stroke-linejoin="round" />
<line x1="579.0" y1="962.2" x2="579.0" y2="970.0" stroke="#b0b0b0" stroke-width="0.8"/>
<line x1="581.6" y1="962.2" x2="581.6" y2="970.0" stroke="#b0b0b0" stroke-width="0.8"/>
<line x1="584.2" y1="962.2" x2="584.2" y2="970.0" stroke="#b0b0b0" stroke-width="0.8"/>
<line x1="586.8" y1="962.2" x2="586.8" y2="970.0" stroke="#b0b0b0" stroke-width="0.8"/>
<line x1="589.4" y1="962.2" x2="589.4" y2="970.0" stroke="#b0b0b0" stroke-width="0.8"/>
<line x1="592.0" y1="962.2" x2="592.0" y2="970.0" stroke="#b0b0b0" stroke-width="0.8"/>
<line x1="594.6" y1="962.2" x2="594.6" y2="970.0" stroke="#b0b0b0" stroke-width="0.8"/>
<line x1="597.2" y1="962.2" x2="597.2" y2="970.0" stroke="#b0b0b0" stroke-width="0.8"/>
<line x1="599.6" y1="962.2" x2="599.6" y2="970.0" stroke="#b0b0b0" stroke-width="0.8"/>
<path d="M601.8,952.6 L608.2,952.6 L608.2,984.9 L601.8,983.6 Z" fill="#fff" stroke="#151515" stroke-width="0.9" stroke-linejoin="round" />
<path d="M601.8,956.6 L608.2,962.6 M601.8,972.2 L608.2,978.8 M601.8,965.0 L601.8,983.6" fill="none" stroke="#151515" stroke-width="0.8" stroke-linejoin="round" />
<rect x="602.0" y="944.8" width="4.2" height="7.8" fill="#2a2a2a"/>
<path d="M608.4,961.4 L611.6,964.6 L611.6,968.0 L608.4,971.0 Z" fill="#3a3a3a" stroke="#151515" stroke-width="0.6" stroke-linejoin="round" />
<path d="M613.2,960.9 L624.0,960.9 Q625.7,960.9 625.7,962.6 L625.7,969.2 Q625.7,970.9 624.0,970.9 L613.2,970.9 Q611.8,970.9 611.8,969.4 L611.8,962.4 Q611.8,960.9 613.2,960.9 Z" fill="#fff" stroke="#151515" stroke-width="1.0" stroke-linejoin="round" />
<path d="M586.4,972.8 L601.8,972.8 L601.8,983.2 L586.4,979.6 Z" fill="#fff" stroke="#151515" stroke-width="0.9" stroke-linejoin="round" />
<path d="M608.2,976.0 L611.4,972.4 L615.0,972.6 L615.0,986.6 L608.2,985.0 Z" fill="#fff" stroke="#151515" stroke-width="0.9" stroke-linejoin="round" />
<path d="M608.2,980.6 L614.8,974.0 M608.2,985.0 L611.4,981.2 L611.4,976.0" fill="none" stroke="#151515" stroke-width="0.7" stroke-linejoin="round" />
</g>
</svg>
</body></html>
